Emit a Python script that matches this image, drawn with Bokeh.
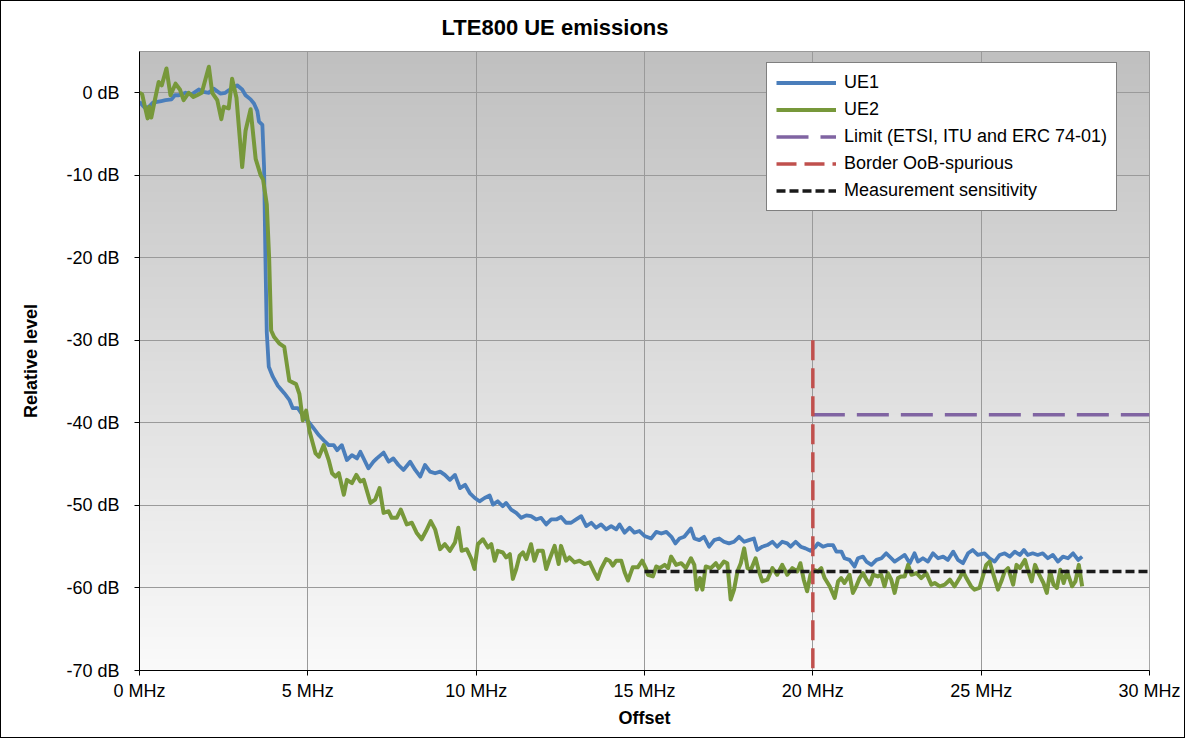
import numpy as np
from bokeh.plotting import figure
from bokeh.models import (Range1d, FixedTicker, PrintfTickFormatter, Legend, LegendItem, Title)
from bokeh.embed import file_html
from bokeh.resources import INLINE

# ---------------- data ----------------
ue1_x = [0.0, 0.15, 0.28, 0.4, 0.52, 0.65, 0.77, 0.95, 1.05, 1.17, 1.37, 1.55, 1.76, 1.9, 2.06, 2.2, 2.4, 2.55,
         2.65, 2.9, 3.05, 3.15, 3.3, 3.4, 3.5, 3.55, 3.65, 3.7, 3.74, 3.78, 3.84, 3.96, 4.11, 4.3, 4.45, 4.55,
         4.7, 4.9, 5.03, 5.18, 5.33, 5.47, 5.62, 5.77, 5.87, 6.01, 6.16, 6.31, 6.46, 6.56, 6.8, 6.95, 7.05,
         7.25, 7.4, 7.54, 7.69, 7.84, 8.04, 8.19, 8.34, 8.48, 8.63, 8.78, 8.93, 9.07, 9.22, 9.37, 9.52, 9.67,
         9.81, 9.96, 10.1, 10.25, 10.4, 10.5, 10.64, 10.79, 10.89, 11.04, 11.19, 11.34, 11.49, 11.63, 11.78,
         11.93, 12.08, 12.23, 12.38, 12.52, 12.67, 12.82, 12.97, 13.12, 13.27, 13.42, 13.56, 13.71, 13.86,
         14.01, 14.16, 14.26, 14.41, 14.56, 14.7, 14.85, 15.0, 15.2, 15.35, 15.5, 15.65, 15.8, 15.92, 16.04,
         16.18, 16.38, 16.48, 16.63, 16.77, 16.92, 17.07, 17.22, 17.36, 17.51, 17.66, 17.81, 17.96, 18.1,
         18.25, 18.35, 18.5, 18.65, 18.8, 18.94, 19.09, 19.24, 19.34, 19.49, 19.64, 19.78, 19.93, 20.08,
         20.15, 20.3, 20.45, 20.6, 20.7, 20.85, 20.94, 21.09, 21.24, 21.34, 21.49, 21.59, 21.74, 21.89,
         22.04, 22.18, 22.33, 22.43, 22.58, 22.73, 22.88, 23.02, 23.12, 23.27, 23.42, 23.57, 23.72, 23.87,
         24.01, 24.17, 24.31, 24.46, 24.61, 24.75, 24.9, 25.1, 25.25, 25.4, 25.55, 25.7, 25.85, 26.0, 26.15,
         26.27, 26.38, 26.53, 26.68, 26.83, 26.98, 27.13, 27.28, 27.43, 27.58, 27.73, 27.88, 28.0]
ue1_y = [-1.1, -1.8, -1.7, -1.2, -1.1, -1.0, -0.9, -0.8, -0.3, -0.3, 0.0, -0.2, 0.4, 0.1, 0.0, 0.5, -0.1, 0.0,
         0.3, 0.9, 0.4, -0.3, -0.8, -1.3, -2.2, -3.5, -3.9, -9.0, -20.0, -29.0, -33.2, -34.4, -35.5, -36.4,
         -37.2, -38.2, -38.2, -39.4, -39.9, -40.7, -41.5, -42.1, -42.7, -42.7, -43.3, -42.7, -44.5, -43.9,
         -44.3, -43.5, -45.5, -44.7, -44.3, -43.6, -44.7, -44.3, -45.1, -45.7, -44.7, -45.7, -46.5, -45.1,
         -45.9, -46.1, -45.9, -46.3, -46.9, -46.3, -47.9, -47.5, -48.5, -49.1, -49.5, -49.1, -48.8, -49.9,
         -49.5, -50.1, -49.7, -50.5, -50.9, -51.5, -51.2, -51.3, -51.7, -51.5, -52.3, -51.7, -51.7, -51.4,
         -52.1, -52.1, -51.7, -51.3, -52.5, -52.1, -52.7, -52.3, -52.9, -52.5, -52.9, -52.3, -53.3, -52.7,
         -53.3, -53.1, -53.7, -54.0, -53.2, -53.4, -53.2, -53.8, -54.6, -54.0, -53.8, -52.8, -54.0, -54.2,
         -53.8, -55.0, -54.2, -54.0, -54.4, -54.6, -54.4, -53.8, -54.4, -54.2, -54.0, -55.4, -55.0, -54.8,
         -54.4, -55.0, -54.4, -54.6, -55.0, -54.4, -55.0, -55.2, -55.5, -55.0, -54.6, -55.0, -54.8, -54.8,
         -55.6, -55.6, -56.4, -56.6, -57.4, -56.4, -56.2, -56.8, -57.2, -56.6, -56.4, -55.8, -56.4, -56.8,
         -56.4, -56.0, -57.0, -55.8, -56.8, -56.4, -56.8, -55.8, -56.4, -56.2, -56.6, -55.6, -56.6, -57.0,
         -55.8, -55.4, -56.0, -55.8, -56.4, -56.8, -56.0, -55.8, -56.2, -55.6, -56.0, -55.4, -56.0, -55.8,
         -56.0, -55.8, -56.4, -56.0, -56.8, -56.2, -56.4, -55.8, -56.6, -56.2]

ue2_x = [0.0, 0.08, 0.15, 0.24, 0.29, 0.35, 0.45, 0.57, 0.66, 0.8, 0.92, 1.07, 1.2, 1.31, 1.46, 1.6, 1.71, 1.85,
         2.06, 2.16, 2.31, 2.43, 2.5, 2.65, 2.75, 2.88, 3.05, 3.15, 3.3, 3.45, 3.6, 3.67, 3.78, 3.85, 3.91,
         4.0, 4.16, 4.3, 4.45, 4.65, 4.75, 4.85, 4.95, 5.05, 5.23, 5.33, 5.47, 5.62, 5.72, 5.82, 5.92, 6.07,
         6.16, 6.31, 6.44, 6.56, 6.66, 6.86, 7.0, 7.13, 7.25, 7.4, 7.49, 7.64, 7.76, 7.94, 8.09, 8.23, 8.38,
         8.51, 8.65, 8.78, 8.93, 9.07, 9.22, 9.37, 9.47, 9.57, 9.72, 9.86, 9.95, 10.05, 10.2, 10.35, 10.45,
         10.55, 10.64, 10.79, 10.89, 11.0, 11.09, 11.19, 11.29, 11.39, 11.49, 11.63, 11.73, 11.83, 11.98,
         12.08, 12.2, 12.33, 12.45, 12.52, 12.67, 12.77, 12.92, 13.07, 13.22, 13.37, 13.51, 13.61, 13.71,
         13.86, 13.96, 14.06, 14.16, 14.31, 14.41, 14.51, 14.65, 14.8, 14.93, 15.05, 15.1, 15.25, 15.35,
         15.45, 15.6, 15.7, 15.79, 15.94, 16.09, 16.23, 16.38, 16.48, 16.55, 16.65, 16.72, 16.82, 16.97,
         17.12, 17.21, 17.36, 17.46, 17.56, 17.66, 17.76, 17.86, 17.96, 18.06, 18.16, 18.3, 18.4, 18.5,
         18.65, 18.8, 18.94, 19.09, 19.24, 19.39, 19.54, 19.63, 19.73, 19.83, 19.93, 20.03, 20.15, 20.25,
         20.35, 20.5, 20.65, 20.75, 20.84, 20.94, 21.09, 21.19, 21.29, 21.39, 21.49, 21.59, 21.69, 21.79,
         21.93, 22.03, 22.13, 22.23, 22.33, 22.43, 22.53, 22.63, 22.73, 22.83, 22.93, 23.08, 23.22, 23.37,
         23.52, 23.62, 23.77, 23.92, 24.07, 24.21, 24.36, 24.46, 24.56, 24.7, 24.8, 24.95, 25.05, 25.15,
         25.25, 25.35, 25.5, 25.6, 25.7, 25.8, 25.95, 26.05, 26.15, 26.3, 26.4, 26.5, 26.6, 26.7, 26.85,
         26.95, 27.05, 27.15, 27.25, 27.35, 27.45, 27.55, 27.7, 27.8, 27.9, 28.0]
ue2_y = [0.0, -0.2, -1.5, -3.1, -1.7, -3.0, -1.0, 1.3, 0.9, 2.95, -0.3, 1.1, 0.4, -0.9, 0.0, -0.5, -0.3, 0.0,
         3.15, 0.0, -0.9, -3.2, -1.7, -1.9, 1.7, -0.6, -9.0, -4.6, -2.0, -8.0, -10.0, -10.5, -13.5, -20.0,
         -28.8, -29.6, -30.4, -30.8, -34.9, -35.3, -36.5, -39.7, -38.5, -41.0, -43.7, -44.1, -42.7, -44.5,
         -46.1, -46.5, -46.1, -48.7, -46.9, -47.3, -46.3, -47.1, -46.9, -49.7, -49.3, -47.9, -50.9, -50.7,
         -51.5, -51.5, -50.5, -52.3, -52.1, -53.3, -54.1, -53.1, -51.9, -52.9, -55.3, -54.7, -55.5, -54.5,
         -52.7, -55.5, -55.3, -56.5, -57.7, -54.7, -54.1, -55.1, -54.7, -56.7, -55.5, -55.7, -56.3, -55.9,
         -58.9, -57.7, -56.1, -55.7, -56.5, -54.7, -56.7, -55.5, -55.5, -57.7, -56.3, -54.9, -57.1, -54.9,
         -56.7, -56.3, -56.9, -56.7, -57.1, -56.9, -58.1, -58.9, -57.7, -56.5, -56.7, -57.3, -56.7, -56.7,
         -58.1, -59.1, -57.5, -57.5, -56.7, -57.7, -58.4, -58.6, -57.4, -57.6, -57.2, -57.6, -56.2, -57.2,
         -57.0, -57.6, -56.4, -57.2, -60.2, -58.8, -60.2, -57.4, -57.6, -57.0, -57.6, -56.8, -57.0, -61.4,
         -60.2, -58.0, -57.0, -55.2, -57.6, -57.8, -56.4, -58.0, -59.2, -59.0, -57.6, -58.4, -57.2, -58.4,
         -57.6, -58.0, -57.0, -59.0, -60.4, -58.4, -57.8, -58.0, -57.6, -58.8, -59.8, -61.2, -59.2, -58.8,
         -59.4, -58.4, -60.6, -59.8, -58.8, -58.2, -59.0, -59.6, -58.4, -58.6, -58.4, -59.8, -58.2, -59.0,
         -60.6, -58.8, -58.6, -58.6, -57.2, -58.4, -58.2, -58.8, -58.2, -59.6, -59.4, -59.8, -59.6, -59.0,
         -59.8, -58.8, -58.0, -58.8, -59.8, -60.2, -60.0, -58.6, -57.2, -56.8, -58.2, -60.2, -59.2, -58.0,
         -57.6, -59.6, -57.2, -57.6, -56.6, -58.0, -59.2, -57.2, -58.2, -59.4, -60.6, -58.0, -59.6, -60.0,
         -57.8, -59.4, -58.0, -59.8, -59.2, -57.2, -59.8]

limit_x = [20, 30]
limit_y = [-39, -39]
border_x = [20, 20]
border_y = [-30, -70]
sens_x = [15, 30]
sens_y = [-58, -58]

x_ticks = [0, 5, 10, 15, 20, 25, 30]
y_ticks = [-70, -60, -50, -40, -30, -20, -10, 0]
x_lo, x_hi = 0, 30
y_lo, y_hi = -70, 5

FONT = "Liberation Sans"

p = figure(width=1185, height=738, output_backend="svg", toolbar_location=None,
           x_range=Range1d(x_lo, x_hi), y_range=Range1d(y_lo, y_hi),
           min_border_left=138, min_border_right=37, min_border_top=49, min_border_bottom=69,
           background_fill_color="white", border_fill_color="white",
           styles={"border": "1px solid black"})

p.title = Title(text="LTE800 UE emissions", align="left", offset=302, standoff=23,
                text_font=FONT, text_font_size="22px", text_font_style="bold", text_color="black")

# background gradient
n = 256
g = np.linspace(250, 192, n).astype(np.uint32)
col = (255 << 24) | (g << 16) | (g << 8) | g
img = col.reshape(n, 1).astype(np.uint32)
p.image_rgba(image=[img], x=x_lo, y=y_lo, dw=x_hi - x_lo, dh=y_hi - y_lo, level="image")

p.outline_line_color = "#8c8c8c"
p.outline_line_width = 1

for ax in (p.xaxis[0], p.yaxis[0]):
    ax.axis_line_color = "black"
    ax.axis_line_width = 1
    ax.major_tick_line_color = "black"
    ax.major_tick_out = 5
    ax.major_tick_in = 0
    ax.minor_tick_line_color = None
    ax.major_label_text_font = FONT
    ax.major_label_text_font_size = "18px"
    ax.major_label_text_color = "black"
    ax.axis_label_text_font = FONT
    ax.axis_label_text_font_size = "18px"
    ax.axis_label_text_font_style = "bold"
    ax.axis_label_text_color = "black"

p.xaxis.ticker = FixedTicker(ticks=x_ticks)
p.yaxis.ticker = FixedTicker(ticks=y_ticks)
p.xaxis.formatter = PrintfTickFormatter(format="%d MHz")
p.yaxis.formatter = PrintfTickFormatter(format="%d dB")
p.xaxis.axis_label = "Offset"
p.yaxis.axis_label = "Relative level"
p.xaxis.major_label_standoff = 5
p.yaxis.major_label_standoff = 15
p.xaxis.axis_label_standoff = 4
p.yaxis.axis_label_standoff = 22

p.xgrid.ticker = FixedTicker(ticks=x_ticks)
p.ygrid.ticker = FixedTicker(ticks=y_ticks)
p.grid.grid_line_color = "#9a9a9a"
p.grid.grid_line_width = 1

r1 = p.line(ue1_x, ue1_y, line_color="#4a7ebb", line_width=3.8, line_join="round")
r2 = p.line(ue2_x, ue2_y, line_color="#77983a", line_width=4, line_join="round")
r3 = p.line(limit_x, limit_y, line_color="#8064a2", line_width=3.5, line_dash="32 12")
r4 = p.line(border_x, border_y, line_color="#c0504d", line_width=3.5, line_dash="20 8")
r5 = p.line(sens_x, sens_y, line_color="#1a1a1a", line_width=3.5, line_dash="9 4")

legend = Legend(items=[
    LegendItem(label="UE1", renderers=[r1]),
    LegendItem(label="UE2", renderers=[r2]),
    LegendItem(label="Limit (ETSI, ITU and ERC 74-01)", renderers=[r3]),
    LegendItem(label="Border OoB-spurious", renderers=[r4]),
    LegendItem(label="Measurement sensitivity", renderers=[r5]),
], location=(627, 459))
legend.label_text_font = FONT
legend.label_text_font_size = "18px"
legend.label_text_color = "black"
legend.border_line_color = "black"
legend.border_line_width = 1
legend.background_fill_color = "white"
legend.background_fill_alpha = 1
legend.padding = 9
legend.spacing = 6
legend.label_height = 19
legend.glyph_height = 19
legend.glyph_width = 60
legend.label_standoff = 8
legend.margin = 0
p.add_layout(legend, "center")

open("out.html", "w").write(file_html(p, INLINE))
